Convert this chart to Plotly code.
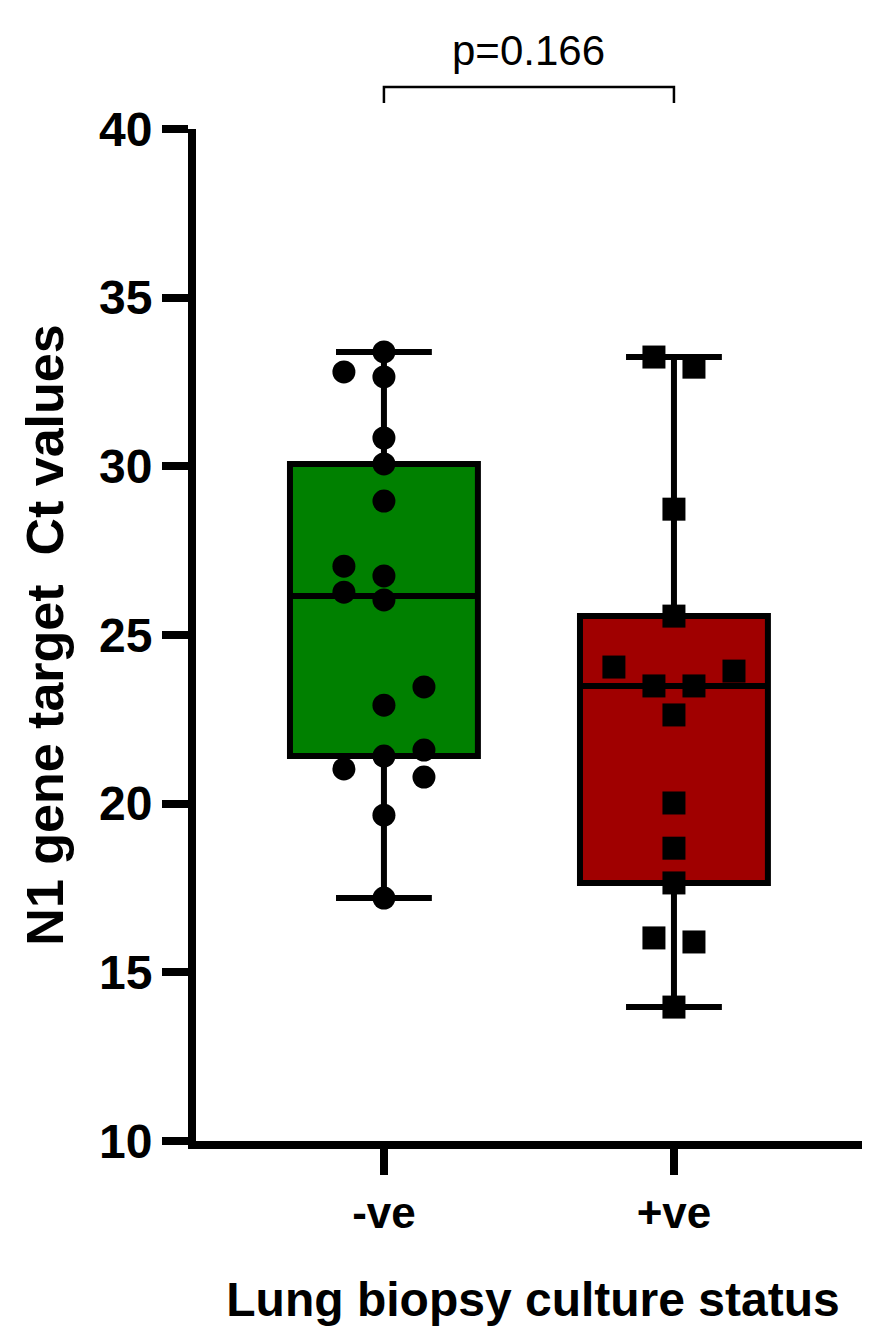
import plotly.graph_objects as go

# ---- data ----
categories = ["-ve", "+ve"]
neg_values = [33.39, 32.80, 32.65, 30.84, 30.07, 28.97, 27.04, 26.27, 26.75,
              26.04, 23.46, 22.92, 21.59, 21.41, 21.03, 20.79, 19.66, 17.20]
neg_slots = [0, -2, 0, 0, 0, 0, -2, -2, 0, 0, 2, 0, 2, 0, -2, 2, 0, 0]
pos_values = [33.24, 32.94, 28.73, 25.56, 24.05, 23.93, 23.49, 23.49, 22.63,
              20.02, 18.68, 17.65, 16.02, 15.90, 13.97]
pos_slots = [-1, 1, 0, 0, -3, 3, -1, 1, 0, 0, 0, 0, -1, 1, 0]
y_ticks = [10, 15, 20, 25, 30, 35, 40]
p_label = "p=0.166"

FONT = "Liberation Sans, Arial, Helvetica, sans-serif"
SLOT = 0.069  # horizontal spacing of scatter columns (category units)

fig = go.Figure()

groups = [
    (0, neg_values, neg_slots, "rgb(0,128,0)", "circle"),
    (1, pos_values, pos_slots, "rgb(160,0,0)", "square"),
]
for xpos, vals, slots, fill, sym in groups:
    fig.add_trace(go.Box(
        x=[xpos] * len(vals), y=vals,
        boxpoints=False, quartilemethod="exclusive",
        width=0.648, whiskerwidth=0.51,
        fillcolor=fill, line=dict(color="black", width=6),
        showlegend=False, hoverinfo="skip",
    ))
    fig.add_trace(go.Scatter(
        x=[xpos + s * SLOT for s in slots], y=vals,
        mode="markers",
        marker=dict(symbol=sym, size=23, color="black", line=dict(width=0)),
        showlegend=False, cliponaxis=False,
    ))

# significance bracket
fig.add_shape(type="path", xref="x", yref="paper",
              path="M 0,1.0257 L 0,1.0415 L 1,1.0415 L 1,1.0257",
              line=dict(color="black", width=2.5))
fig.add_annotation(x=0.5, xref="x", y=1.078, yref="paper", text=p_label,
                   showarrow=False, font=dict(family=FONT, size=42, color="black"),
                   yanchor="middle")

fig.update_layout(
    width=862, height=1329,
    margin=dict(l=188, r=0, t=121, b=196),
    paper_bgcolor="white", plot_bgcolor="white",
    font=dict(family=FONT, color="black"),
    xaxis=dict(
        range=[-0.648, 1.676], tickvals=[0, 1], ticktext=categories,
        showgrid=False, zeroline=False,
        showline=True, linecolor="black", linewidth=8,
        ticks="outside", ticklen=26, tickwidth=8, tickcolor="black",
        tickfont=dict(family=FONT, size=44, color="black", weight="bold"),
        title=dict(text="Lung biopsy culture status", standoff=50,
                   font=dict(family=FONT, size=48, color="black", weight="bold")),
    ),
    yaxis=dict(
        range=[10, 40], tickvals=y_ticks,
        showgrid=False, zeroline=False,
        showline=True, linecolor="black", linewidth=8,
        ticks="outside", ticklen=26, tickwidth=8, tickcolor="black",
        tickfont=dict(family=FONT, size=48, color="black", weight="bold"),
        title=dict(text="N1 gene target\u00a0 Ct values", standoff=22,
                   font=dict(family=FONT, size=52, color="black", weight="bold")),
    ),
)

fig.write_html("out.html")
